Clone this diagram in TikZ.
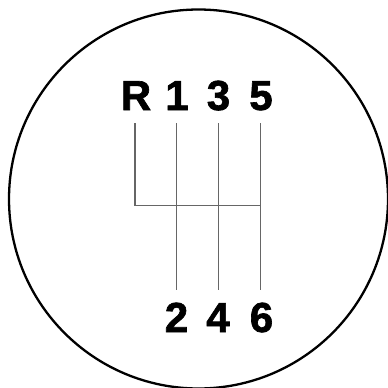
\documentclass[tikz,border=0pt]{standalone}
\usepackage{fontspec}
\setmainfont{Liberation Sans}
\newfontfamily\gearfont[FakeBold=1.6]{Liberation Sans Bold}
\begin{document}
\begin{tikzpicture}[x=1pt,y=-1pt,
  gear/.style={font=\gearfont\fontsize{42}{42}\selectfont, inner sep=0pt, anchor=base},
  gate/.style={draw=black!60, line width=1.4pt}]
\useasboundingbox (0,0) rectangle (388,388);
\node[draw, circle, line width=2.3pt, minimum size=379pt, inner sep=0pt] (knob) at (198.5,199) {};
\node[gear] (R) at (136,110) {R};
\node[gear] (g1) at (177,110) {1};
\node[gear] (g3) at (218.5,110) {3};
\node[gear] (g5) at (261,110) {5};
\node[gear] (g2) at (176.5,332) {2};
\node[gear] (g4) at (218,332) {4};
\node[gear] (g6) at (261.5,332) {6};
\coordinate (tR) at (135,123);
\coordinate (t1) at (176.7,123);
\coordinate (t3) at (218.7,123);
\coordinate (t5) at (260.7,123);
\coordinate (b2) at (176.7,290);
\coordinate (b4) at (218.7,290);
\coordinate (b6) at (260.7,290);
\coordinate (nR) at (135,205.7);
\coordinate (n5) at (260.7,205.7);
\draw[gate] (tR) -- (nR) -- (n5);
\draw[gate] (t1) -- (b2);
\draw[gate] (t3) -- (b4);
\draw[gate] (t5) -- (b6);
\end{tikzpicture}
\end{document}
